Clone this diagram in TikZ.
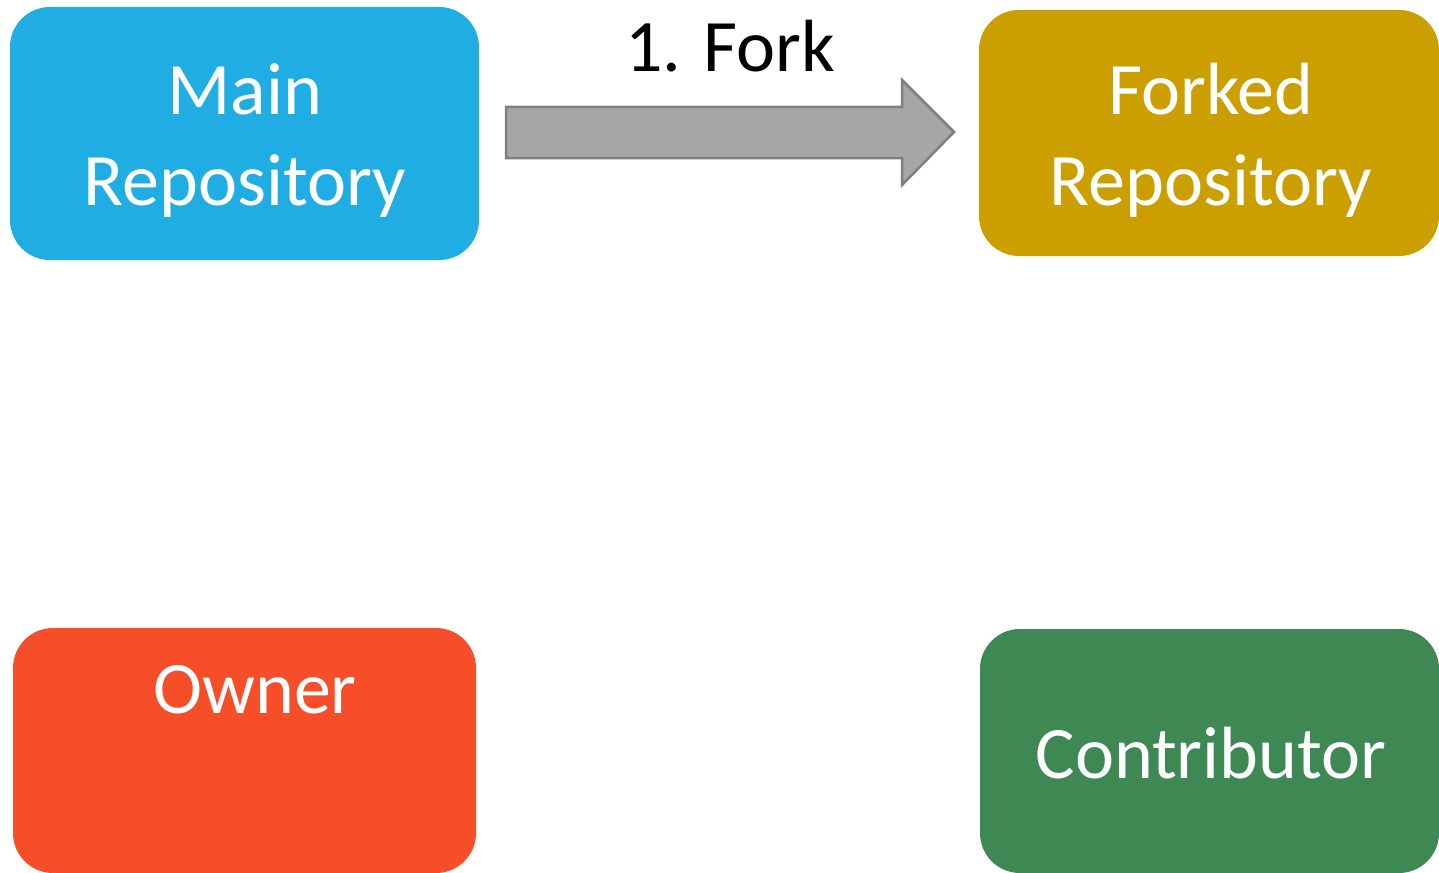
\documentclass[tikz,border=0pt]{standalone}
\usepackage{fontspec}
\setmainfont{Carlito}
\definecolor{mainblue}{HTML}{1FADE4}
\definecolor{forkgold}{HTML}{CC9F00}
\definecolor{ownerred}{HTML}{F54E29}
\definecolor{contribgreen}{HTML}{3E8853}
\definecolor{arrowfill}{HTML}{A6A6A6}
\definecolor{arrowline}{HTML}{7F7F7F}
\begin{document}
\begin{tikzpicture}[x=1pt,y=-1pt,
  lbl/.style={font=\fontsize{74}{90}\selectfont, inner sep=0pt}]
\useasboundingbox (0,0) rectangle (1439,872);
% boxes
\fill[mainblue, rounded corners=40pt] (10,7) rectangle (479,260);
\fill[forkgold, rounded corners=40pt] (979,10) rectangle (1439,256);
\fill[ownerred, rounded corners=40pt] (13,628) rectangle (476,873);
\fill[contribgreen, rounded corners=40pt] (980,629) rectangle (1439,873);
\node[lbl, text=white, anchor=base] (mainA) at (245,115) {Main};
\node[lbl, text=white, anchor=base] (mainB) at (245,205) {Repository};
\node[lbl, text=white, anchor=base] (forkA) at (1211,115) {Forked};
\node[lbl, text=white, anchor=base] (forkB) at (1211,205) {Repository};
\node[lbl, text=white, anchor=base] (owner) at (255,713) {Owner};
\node[lbl, text=white, anchor=base] (contrib) at (1211,778) {Contributor};
% fork arrow
\filldraw[fill=arrowfill, draw=arrowline, line width=2.5pt, line join=miter]
  (506,107) -- (902,107) -- (902,80) -- (954,132) -- (902,185) -- (902,158) -- (506,158) -- cycle;
\node[lbl, anchor=base] (forklabel) at (730,72) {1. Fork};
\end{tikzpicture}
\end{document}
